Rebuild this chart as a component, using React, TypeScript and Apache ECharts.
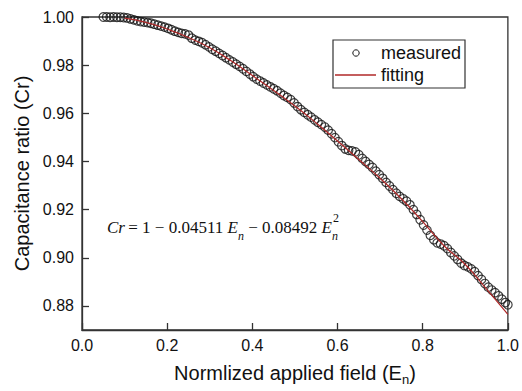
import React, { useEffect, useRef } from "react";
import * as echarts from "echarts";

const measuredX = [
  0.05, 0.058, 0.066, 0.074, 0.082, 0.09, 0.098, 0.106, 0.114, 0.122, 0.13, 0.138, 0.146, 0.154, 0.162, 0.17,
  0.178, 0.186, 0.194, 0.202, 0.21, 0.218, 0.226, 0.234, 0.242, 0.25, 0.258, 0.266, 0.274, 0.282, 0.29, 0.298,
  0.306, 0.314, 0.322, 0.33, 0.338, 0.346, 0.354, 0.362, 0.37, 0.378, 0.386, 0.394, 0.402, 0.41, 0.418, 0.426,
  0.434, 0.442, 0.45, 0.458, 0.466, 0.474, 0.482, 0.49, 0.498, 0.506, 0.514, 0.522, 0.53, 0.538, 0.546, 0.554,
  0.562, 0.57, 0.578, 0.586, 0.594, 0.602, 0.61, 0.618, 0.626, 0.634, 0.642, 0.65, 0.658, 0.666, 0.674, 0.682,
  0.69, 0.698, 0.706, 0.714, 0.722, 0.73, 0.738, 0.746, 0.754, 0.762, 0.77, 0.778, 0.786, 0.794, 0.802, 0.81,
  0.818, 0.826, 0.834, 0.842, 0.85, 0.858, 0.866, 0.874, 0.882, 0.89, 0.898, 0.906, 0.914, 0.922, 0.93, 0.938,
  0.946, 0.954, 0.962, 0.97, 0.978, 0.986, 0.994, 1.0,
];
const measuredY = [
  1.0, 1.0, 0.9999, 1.0, 0.9999, 0.9999, 0.9998, 0.9996, 0.9992, 0.9988, 0.9984, 0.9981, 0.9979, 0.9977, 0.9974, 0.997,
  0.9966, 0.9962, 0.9958, 0.9953, 0.9947, 0.9941, 0.9936, 0.9932, 0.993, 0.9925, 0.9912, 0.9904, 0.9899, 0.9893, 0.9885, 0.9876,
  0.9866, 0.9858, 0.9849, 0.984, 0.9831, 0.9822, 0.9813, 0.9804, 0.9795, 0.9785, 0.9774, 0.9763, 0.9752, 0.9742, 0.9734, 0.9726,
  0.9718, 0.971, 0.9702, 0.9694, 0.9684, 0.9674, 0.9666, 0.9657, 0.9643, 0.9628, 0.9615, 0.9604, 0.9594, 0.9584, 0.9573, 0.9563,
  0.9553, 0.9543, 0.953, 0.9515, 0.9499, 0.9482, 0.9466, 0.9452, 0.9446, 0.9444, 0.944, 0.9428, 0.9413, 0.94, 0.9388, 0.9375,
  0.936, 0.9345, 0.933, 0.9313, 0.9298, 0.9283, 0.9268, 0.9255, 0.9245, 0.9235, 0.922, 0.92, 0.918, 0.9158, 0.9136, 0.9115,
  0.9093, 0.9075, 0.9062, 0.9057, 0.905, 0.9038, 0.9022, 0.9008, 0.8993, 0.8978, 0.8968, 0.8962, 0.8954, 0.8942, 0.8926, 0.891,
  0.8893, 0.8878, 0.8866, 0.8855, 0.8842, 0.8828, 0.8814, 0.8805,
];

const fitX = [0.1, 0.15, 0.2, 0.25, 0.3, 0.35, 0.4, 0.45, 0.5, 0.55, 0.6, 0.65, 0.7, 0.75, 0.8, 0.85, 0.9, 0.95, 1.0];
const fitY = [
  0.9995, 0.9978, 0.995, 0.9915, 0.9872, 0.9818, 0.9757, 0.9695, 0.963, 0.956, 0.9485, 0.9408, 0.933, 0.9245, 0.915,
  0.905, 0.8972, 0.887, 0.8765,
];

const yTicks = [0.88, 0.9, 0.92, 0.94, 0.96, 0.98, 1.0];
const xTicks = [0, 0.2, 0.4, 0.6, 0.8, 1.0];

const SANS = "'Liberation Sans', Arial, sans-serif";
const SERIF = "'Liberation Serif', 'Times New Roman', serif";
const AXIS = "#333";
const TXT = "#111";
const RED = "#b02828";

export default function App() {
  const ref = useRef<HTMLDivElement>(null);

  useEffect(() => {
    document.body.style.margin = "0";
    if (!ref.current) return;
    const chart = echarts.init(ref.current, null, { renderer: "svg" });
    const measured = measuredX.map((x, i) => [x, measuredY[i]]);
    const fitting = fitX.map((x, i) => [x, fitY[i]]);

    chart.setOption({
      animation: false,
      backgroundColor: "#fff",
      grid: { left: 82, right: 10, top: 17, bottom: 58, show: true, borderColor: AXIS, borderWidth: 1.3, backgroundColor: "transparent" },
      xAxis: {
        type: "value",
        min: 0,
        max: 1,
        interval: 0.2,
        name: "Normlized applied field (E{s|n})",
        nameLocation: "middle",
        nameGap: 30,
        nameTextStyle: {
          fontSize: 20,
          fontFamily: SANS,
          color: TXT,
          lineHeight: 26,
          rich: {
            s: { fontSize: 13, fontFamily: SANS, color: TXT, verticalAlign: "bottom", lineHeight: 16 },
          },
        },
        axisLine: { show: true, lineStyle: { color: AXIS, width: 1.3 } },
        axisTick: { show: true, inside: true, length: 7, lineStyle: { color: AXIS, width: 1.3 }, customValues: xTicks },
        axisLabel: {
          fontSize: 16,
          fontFamily: SANS,
          color: TXT,
          margin: 7,
          customValues: xTicks,
          formatter: (v: number) => v.toFixed(1),
        },
        splitLine: { show: false },
      },
      yAxis: {
        type: "value",
        min: 0.87,
        max: 1.0,
        name: "Capacitance ratio (Cr)",
        nameLocation: "middle",
        nameGap: 48,
        nameTextStyle: { fontSize: 20, fontFamily: SANS, color: TXT },
        axisLine: { show: true, lineStyle: { color: AXIS, width: 1.3 } },
        axisTick: { show: true, inside: true, length: 7, lineStyle: { color: AXIS, width: 1.3 }, customValues: yTicks },
        axisLabel: {
          fontSize: 16,
          fontFamily: SANS,
          color: TXT,
          margin: 8,
          customValues: yTicks,
          formatter: (v: number) => v.toFixed(2),
        },
        splitLine: { show: false },
      },
      series: [
        {
          name: "measured",
          type: "scatter",
          data: measured,
          symbol: "circle",
          symbolSize: 8.5,
          itemStyle: { color: "transparent", borderColor: "#111", borderWidth: 1.2 },
          z: 2,
        },
        {
          name: "fitting",
          type: "line",
          data: fitting,
          smooth: true,
          showSymbol: false,
          lineStyle: { color: RED, width: 1.2 },
          z: 3,
        },
      ],
      graphic: [
        {
          type: "rect",
          shape: { x: 333, y: 40, width: 132, height: 48 },
          style: { fill: "#fff", stroke: AXIS, lineWidth: 1.2 },
          z: 10,
        },
        {
          type: "circle",
          shape: { cx: 356, cy: 53, r: 3.2 },
          style: { fill: "none", stroke: "#111", lineWidth: 1 },
          z: 11,
        },
        {
          type: "text",
          x: 381,
          y: 53,
          style: { text: "measured", fontSize: 18, fontFamily: SANS, fill: TXT, verticalAlign: "middle" },
          z: 11,
        },
        {
          type: "line",
          shape: { x1: 335, y1: 75, x2: 376, y2: 75 },
          style: { stroke: RED, lineWidth: 1.3 },
          z: 11,
        },
        {
          type: "text",
          x: 381,
          y: 75,
          style: { text: "fitting", fontSize: 18, fontFamily: SANS, fill: TXT, verticalAlign: "middle" },
          z: 11,
        },
        {
          type: "text",
          x: 107,
          y: 227,
          style: {
            text: "{i|Cr} {r|= 1 − 0.04511 }{i|E}{s|n}{r| − 0.08492 }{i|E}{s0|n}{p|2}",
            verticalAlign: "middle",
            fill: TXT,
            rich: {
              i: { fontFamily: SERIF, fontStyle: "italic", fontSize: 17, fill: TXT, lineHeight: 30, verticalAlign: "middle" },
              r: { fontFamily: SERIF, fontSize: 17, fill: TXT, lineHeight: 30, verticalAlign: "middle" },
              s: { fontFamily: SERIF, fontStyle: "italic", fontSize: 12, fill: TXT, lineHeight: 15, verticalAlign: "bottom" },
              s0: { fontFamily: SERIF, fontStyle: "italic", fontSize: 12, fill: TXT, lineHeight: 15, verticalAlign: "bottom", width: 1 },
              p: { fontFamily: SERIF, fontSize: 12, fill: TXT, lineHeight: 12, verticalAlign: "top" },
            },
          },
          z: 11,
        },
      ],
    });

    return () => chart.dispose();
  }, []);

  return <div ref={ref} style={{ width: 522, height: 391 }} />;
}
